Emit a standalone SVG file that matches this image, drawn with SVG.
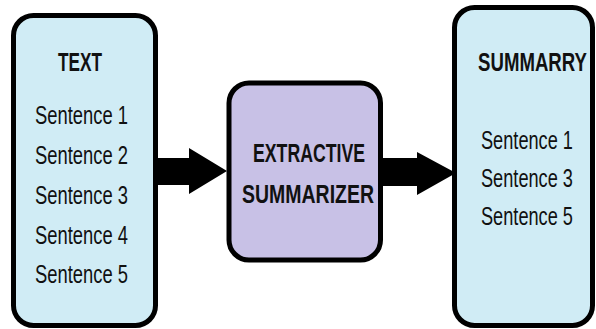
<svg xmlns="http://www.w3.org/2000/svg" width="596" height="329" viewBox="0 0 596 329">
<style>
.box{stroke:#000;stroke-width:5}
.blue{fill:#d0ecf5}
.purple{fill:#c8c1e6}
.t{font-family:"Liberation Sans",Arial,sans-serif;fill:#111}
.h{font-weight:bold;font-size:26px}
.s{font-size:25px}
.arrow{fill:#000}
</style>
<rect width="596" height="329" fill="#fff"/>
<g id="connectors">
<polygon class="arrow" points="150,158 189,158 189,148 227,171 189,194 189,185 150,185"/>
<polygon class="arrow" points="376,158 417,158 417,152 456,173 417,195 417,186 376,186"/>
</g>
<g id="text-node">
<rect class="box blue" x="13.5" y="15.5" width="142" height="310" rx="20"/>
<text class="t h" transform="translate(80,71) scale(0.66,1)" text-anchor="middle" textLength="66.7" lengthAdjust="spacingAndGlyphs">TEXT</text>
<text class="t s" transform="translate(35,124) scale(0.735,1)" textLength="126.5" lengthAdjust="spacingAndGlyphs">Sentence 1</text>
<text class="t s" transform="translate(35,163.5) scale(0.735,1)" textLength="126.5" lengthAdjust="spacingAndGlyphs">Sentence 2</text>
<text class="t s" transform="translate(35,203.5) scale(0.735,1)" textLength="126.5" lengthAdjust="spacingAndGlyphs">Sentence 3</text>
<text class="t s" transform="translate(35,243.5) scale(0.735,1)" textLength="126.5" lengthAdjust="spacingAndGlyphs">Sentence 4</text>
<text class="t s" transform="translate(35,283) scale(0.735,1)" textLength="126.5" lengthAdjust="spacingAndGlyphs">Sentence 5</text>
</g>
<g id="summarizer-node">
<rect class="box purple" x="229" y="83" width="151.5" height="177" rx="20"/>
<text class="t h" transform="translate(309,162) scale(0.68,1)" text-anchor="middle" textLength="164.7" lengthAdjust="spacingAndGlyphs">EXTRACTIVE</text>
<text class="t h" transform="translate(308,203) scale(0.75,1)" text-anchor="middle" textLength="176" lengthAdjust="spacingAndGlyphs">SUMMARIZER</text>
</g>
<g id="summary-node">
<rect class="box blue" x="454.5" y="7.5" width="138" height="318" rx="20"/>
<text class="t h" transform="translate(532.5,71) scale(0.71,1)" text-anchor="middle" textLength="153.5" lengthAdjust="spacingAndGlyphs">SUMMARRY</text>
<text class="t s" transform="translate(481,149) scale(0.73,1)" textLength="126" lengthAdjust="spacingAndGlyphs">Sentence 1</text>
<text class="t s" transform="translate(481,187) scale(0.73,1)" textLength="126" lengthAdjust="spacingAndGlyphs">Sentence 3</text>
<text class="t s" transform="translate(481,225) scale(0.73,1)" textLength="126" lengthAdjust="spacingAndGlyphs">Sentence 5</text>
</g>
</svg>
